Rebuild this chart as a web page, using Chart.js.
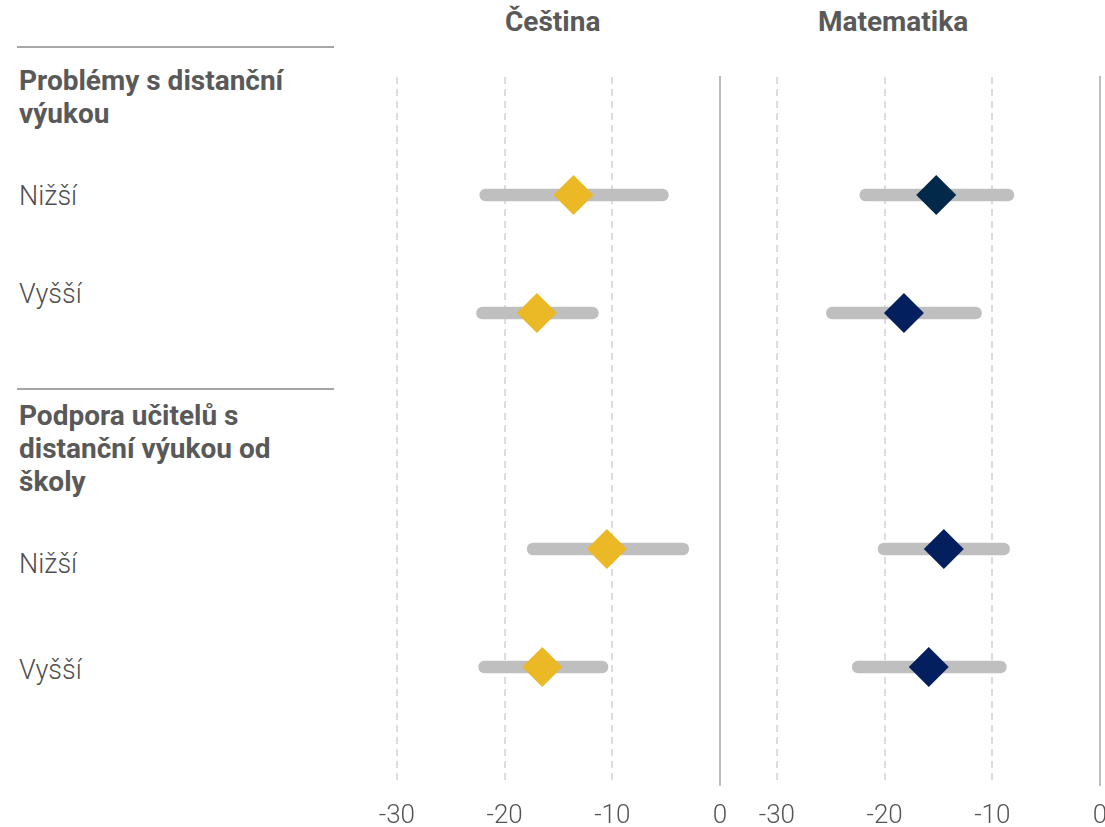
<!DOCTYPE html>
<html lang="cs">
<head>
<meta charset="utf-8">
<title>Čeština a Matematika – distanční výuka</title>
<script src="https://cdn.jsdelivr.net/npm/chart.js@4/dist/chart.umd.min.js"></script>
<style>
  html, body { margin: 0; padding: 0; background: #fff; overflow: hidden; }
  body { width: 1105px; height: 827px; position: relative; font-family: Roboto, "Noto Sans", sans-serif; color: #595959; }
  .rule { position: absolute; left: 17px; width: 317px; height: 2px; background: #a6a6a6; }
  .group { position: absolute; left: 19px; font-weight: 700; font-size: 28px; line-height: 33px; color: #595959; }
  .row { position: absolute; left: 19px; font-weight: 300; font-size: 27px; line-height: 30px; color: #4f4f4f; }
  .panel-title { position: absolute; top: 5px; font-weight: 700; font-size: 28px; color: #595959; }
  canvas { position: absolute; top: 0; }
</style>
</head>
<body>
<div class="rule" style="top:46px"></div>
<div class="group" id="g1" style="top:64px"></div>
<div class="row" id="r1" style="top:181px"></div>
<div class="row" id="r2" style="top:279px"></div>
<div class="rule" style="top:388px"></div>
<div class="group" id="g2" style="top:399px"></div>
<div class="row" id="r3" style="top:549px"></div>
<div class="row" id="r4" style="top:655px"></div>
<div class="panel-title" id="t1" style="left:505px"></div>
<div class="panel-title" id="t2" style="left:818px"></div>

<div id="wrapA" style="position:absolute;left:323px;top:0;width:417px;height:827px"><canvas id="chartA"></canvas></div>
<div id="wrapB" style="position:absolute;left:703px;top:0;width:417px;height:827px"><canvas id="chartB"></canvas></div>

<script>
// Group headings and row labels
const groupLabels = ['Problémy s distanční<br>výukou', 'Podpora učitelů s<br>distanční výukou od<br>školy'];
const rowLabels = ['Nižší', 'Vyšší', 'Nižší', 'Vyšší'];
const panelTitles = ['Čeština', 'Matematika'];

// Row positions on the vertical scale (gap between the two groups)
const rowPos = [1, 2, 4, 5];

// Čeština: interval bounds and point estimate
const cestinaLow  = [-22.3, -22.6, -17.9, -22.4];
const cestinaHigh = [-4.8, -11.3, -2.9, -10.4];
const cestinaEst  = [-13.6, -17.0, -10.5, -16.5];

// Matematika: interval bounds and point estimate
const matLow  = [-22.3, -25.4, -20.6, -23.0];
const matHigh = [-8.0, -11.0, -8.4, -8.7];
const matEst  = [-15.2, -18.2, -14.5, -15.9];

// Axis ticks
const xTickValues = [-30, -20, -10, 0];
const xMin = -35, xMax = 0;

document.getElementById('g1').innerHTML = groupLabels[0];
document.getElementById('g2').innerHTML = groupLabels[1];
['r1','r2','r3','r4'].forEach((id, i) => document.getElementById(id).textContent = rowLabels[i]);
document.getElementById('t1').textContent = panelTitles[0];
document.getElementById('t2').textContent = panelTitles[1];

function makePanel(canvasId, low, high, est, pointColors) {
  const bars = rowPos.map((y, i) => ({ x: [low[i], high[i]], y: y }));
  const points = rowPos.map((y, i) => ({ x: est[i], y: y }));
  return new Chart(document.getElementById(canvasId), {
    type: 'scatter',
    data: {
      datasets: [
        {
          type: 'scatter',
          data: points,
          order: 0,
          pointStyle: 'rectRot',
          pointRadius: 20,
          pointHoverRadius: 20,
          pointBorderWidth: 0,
          pointBackgroundColor: pointColors,
          pointBorderColor: pointColors
        },
        {
          type: 'bar',
          indexAxis: 'y',
          data: bars,
          order: 1,
          barThickness: 12,
          borderRadius: 6,
          borderSkipped: false,
          backgroundColor: '#bfbfbf'
        }
      ]
    },
    options: {
      responsive: true,
      maintainAspectRatio: false,
      animation: false,
      events: [],
      // side padding covers the diamond overflow Chart.js reserves (radius 20)
      layout: { padding: { top: 77, left: 20, right: 20, bottom: 0 } },
      plugins: { legend: { display: false }, tooltip: { enabled: false } },
      scales: {
        x: {
          type: 'linear',
          min: xMin,
          max: xMax,
          offset: false,
          afterBuildTicks: (scale) => { scale.ticks = xTickValues.map(v => ({ value: v })); },
          afterFit: (scale) => { scale.height = 42; scale.paddingLeft = 0; scale.paddingRight = 0; },
          grid: {
            drawTicks: false,
            offset: false,
            lineWidth: 2,
            color: (ctx) => (ctx.tick && ctx.tick.value === 0) ? 'rgba(0,0,0,0)' : '#dcdcdc'
          },
          border: { display: false, dash: [7, 5] },
          ticks: {
            padding: 16,
            color: '#555',
            font: { family: 'Roboto', size: 26, weight: 300 },
            callback: (v) => String(v)
          }
        },
        y: {
          type: 'linear',
          position: 'right',
          reverse: true,
          offset: false,
          min: 0,
          max: 6,
          afterFit: (scale) => { scale.width = 0; },
          grid: { display: false, drawTicks: false, offset: false },
          ticks: { display: false },
          border: { display: true, color: '#bdbdbd', width: 2 }
        }
      }
    }
  });
}

makePanel('chartA', cestinaLow, cestinaHigh, cestinaEst, '#ebb826');
makePanel('chartB', matLow, matHigh, matEst, ['#02284a', '#041f5e', '#041f5e', '#041f5e']);
</script>
</body>
</html>
